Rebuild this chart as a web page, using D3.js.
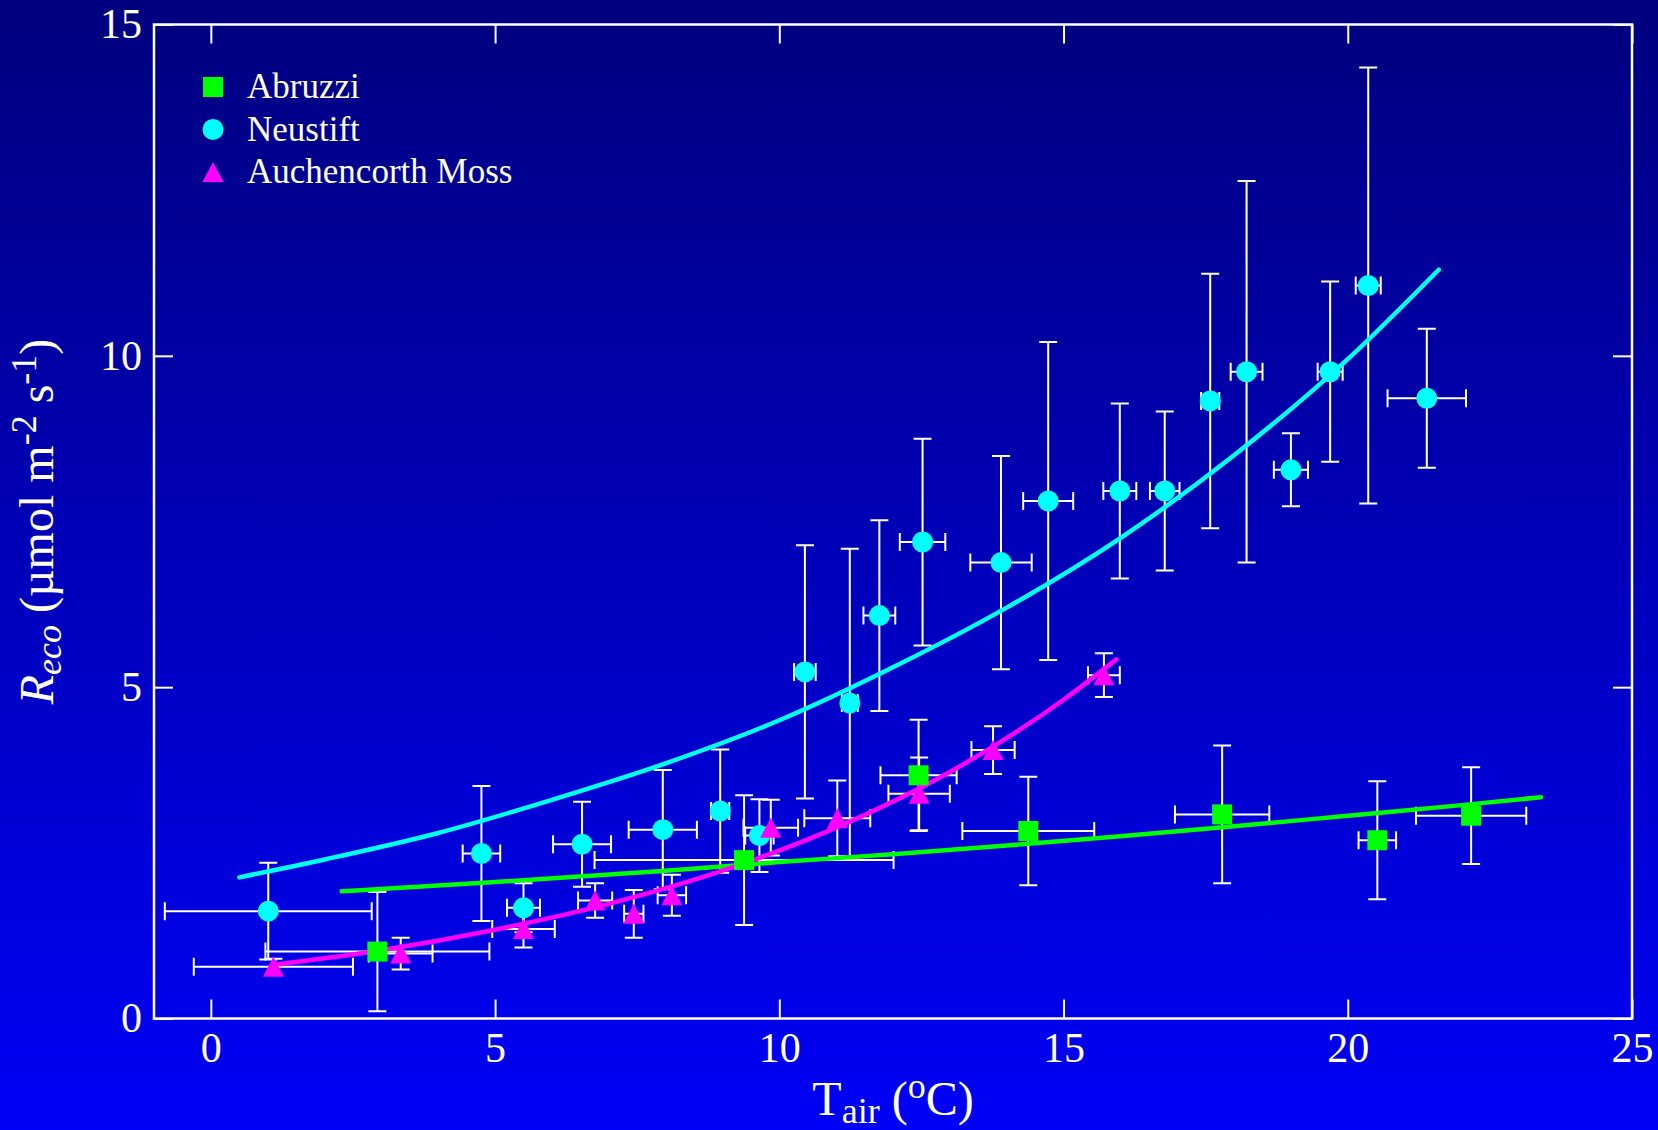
<!DOCTYPE html>
<html>
<head>
<meta charset="utf-8">
<script src="https://cdn.jsdelivr.net/npm/d3@7"></script>
<style>
  body { margin: 0; padding: 0; background: #000080; }
  svg text { font-family: "Liberation Serif", "Times New Roman", serif; fill: #fff; }
</style>
</head>
<body>
<div id="chart"></div>
<script>
// data
var abruzziX    = [2.93, 9.38, 12.45, 14.38, 17.79, 20.52, 22.17]
var abruzziY    = [1.01, 2.39, 3.67, 2.83, 3.08, 2.69, 3.06]
var abruzziXErr = [1.97, 2.63, 0.67, 1.16, 0.83, 0.33, 0.97]
var abruzziYErr = [0.90, 0.98, 0.84, 0.82, 1.04, 0.89, 0.73]

var neustiftX    = [1.01, 4.76, 5.50, 6.53, 7.95, 8.96, 9.65, 10.45, 11.24, 11.76, 12.52, 13.90, 14.73, 15.99, 16.78, 17.58, 18.22, 19.00, 19.69, 20.36, 21.39]
var neustiftY    = [1.62, 2.49, 1.67, 2.63, 2.85, 3.13, 2.76, 5.23, 4.76, 6.08, 7.19, 6.88, 7.81, 7.96, 7.96, 9.32, 9.76, 8.28, 9.76, 11.06, 9.36]
var neustiftXErr = [1.82, 0.33, 0.29, 0.51, 0.60, 0.16, 0.25, 0.19, 0.14, 0.28, 0.40, 0.54, 0.44, 0.29, 0.26, 0.16, 0.28, 0.30, 0.22, 0.22, 0.69]
var neustiftYErr = [0.73, 1.02, 0.37, 0.64, 0.90, 0.93, 0.55, 1.91, 2.33, 1.44, 1.56, 1.61, 2.40, 1.32, 1.20, 1.92, 2.88, 0.55, 1.36, 3.29, 1.05]

var auchX    = [1.10, 3.34, 5.50, 6.76, 7.44, 8.11, 9.85, 11.02, 12.46, 13.76, 15.71]
var auchY    = [0.78, 0.98, 1.35, 1.78, 1.58, 1.86, 2.88, 3.02, 3.39, 4.05, 5.18]
var auchXErr = [1.40, 0.56, 0.55, 0.30, 0.17, 0.25, 0.48, 0.58, 0.54, 0.38, 0.28]
var auchYErr = [0.12, 0.24, 0.28, 0.26, 0.36, 0.31, 0.42, 0.57, 0.55, 0.36, 0.33]

// fitted curves, points
var abruzziFitX = [2.3, 5, 8, 10, 12, 14, 16, 18, 20, 22, 23.4]
var abruzziFitY = [1.92, 2.06, 2.23, 2.36, 2.48, 2.61, 2.75, 2.90, 3.06, 3.22, 3.34]
var neustiftFitX = [0.5, 2, 4, 6, 8, 10, 12, 14, 16, 18, 20, 21.6]
var neustiftFitY = [2.13, 2.40, 2.80, 3.30, 3.85, 4.50, 5.30, 6.20, 7.25, 8.50, 9.95, 11.3]
var auchFitX = [1.1, 3, 5, 7, 9, 11, 13, 15, 15.93]
var auchFitY = [0.81, 1.03, 1.34, 1.73, 2.23, 2.88, 3.72, 4.81, 5.42]

var xTicks = [0, 5, 10, 15, 20, 25]
var yTicks = [0, 5, 10, 15]
var seriesNames = ["Abruzzi", "Neustift", "Auchencorth Moss"]
var seriesColors = ["#00ff00", "#00ffff", "#ff00ff"]
var seriesShapes = ["square", "circle", "triangle"]

// set the dimensions and margins of the graph
var margin = {top: 24.5, right: 26, bottom: 111.5, left: 154},
    width = 1658 - margin.left - margin.right,
    height = 1130 - margin.top - margin.bottom;

var root = d3.select("#chart")
    .append("svg")
    .attr("width", 1658)
    .attr("height", 1130)

// background gradient, dark navy at top to blue at bottom
var grad = root.append("defs").append("linearGradient")
    .attr("id", "bg")
    .attr("x1", 0).attr("y1", 0).attr("x2", 0).attr("y2", 1)
grad.append("stop").attr("offset", "0%").attr("stop-color", "#00007e")
grad.append("stop").attr("offset", "100%").attr("stop-color", "#0000f6")
root.append("rect")
    .attr("width", 1658).attr("height", 1130)
    .attr("fill", "url(#bg)")

var svg = root.append("g")
    .attr("transform", "translate(" + margin.left + "," + margin.top + ")");

var x = d3.scaleLinear().domain([-1, 25]).range([0, width]);
var y = d3.scaleLinear().domain([0, 15]).range([height, 0]);

// axes: ticks pointing inward on all four sides
function styleAxis(g) {
    g.select(".domain").remove()
    g.selectAll(".tick line").attr("stroke", "#fff").attr("stroke-width", 2)
    g.selectAll(".tick text").attr("fill", "#fff").style("font-size", "42px")
        .style("font-family", '"Liberation Serif", "Times New Roman", serif')
}
svg.append("g")
    .attr("transform", "translate(0," + height + ")")
    .call(d3.axisBottom(x).tickValues(xTicks).tickSizeInner(-19).tickSizeOuter(0).tickPadding(14))
    .call(styleAxis)
svg.append("g")
    .call(d3.axisTop(x).tickValues(xTicks).tickSizeInner(-19).tickSizeOuter(0).tickFormat(""))
    .call(styleAxis)
svg.append("g")
    .call(d3.axisLeft(y).tickValues(yTicks).tickSizeInner(-19).tickSizeOuter(0).tickPadding(12))
    .call(styleAxis)
svg.append("g")
    .attr("transform", "translate(" + width + ",0)")
    .call(d3.axisRight(y).tickValues(yTicks).tickSizeInner(-19).tickSizeOuter(0).tickFormat(""))
    .call(styleAxis)

svg.append("rect")
    .attr("width", width).attr("height", height)
    .attr("fill", "none").attr("stroke", "#fff").attr("stroke-width", 2.5)

// build point tables
function pts(xs, ys, xe, ye) {
    return xs.map(function(v, i) { return {x: v, y: ys[i], xe: xe[i], ye: ye[i]} })
}
var series = [
    {name: seriesNames[0], color: seriesColors[0], shape: seriesShapes[0],
     points: pts(abruzziX, abruzziY, abruzziXErr, abruzziYErr), fitX: abruzziFitX, fitY: abruzziFitY},
    {name: seriesNames[1], color: seriesColors[1], shape: seriesShapes[1],
     points: pts(neustiftX, neustiftY, neustiftXErr, neustiftYErr), fitX: neustiftFitX, fitY: neustiftFitY},
    {name: seriesNames[2], color: seriesColors[2], shape: seriesShapes[2],
     points: pts(auchX, auchY, auchXErr, auchYErr), fitX: auchFitX, fitY: auchFitY}
]

// error bars
var cap = 9
var eb = svg.append("g").attr("stroke", "#fff").attr("stroke-width", 2).attr("fill", "none")
series.forEach(function(s) {
    s.points.forEach(function(d) {
        var cx = x(d.x), cy = y(d.y)
        var x0 = x(d.x - d.xe), x1 = x(d.x + d.xe)
        var y0 = y(d.y - d.ye), y1 = y(d.y + d.ye)
        eb.append("path").attr("d",
            "M" + x0 + "," + cy + "H" + x1 +
            "M" + x0 + "," + (cy - cap) + "V" + (cy + cap) +
            "M" + x1 + "," + (cy - cap) + "V" + (cy + cap) +
            "M" + cx + "," + y0 + "V" + y1 +
            "M" + (cx - cap) + "," + y0 + "H" + (cx + cap) +
            "M" + (cx - cap) + "," + y1 + "H" + (cx + cap))
    })
})

// fitted lines
series.forEach(function(s) {
    svg.append("path")
        .datum(s.fitX.map(function(v, i) { return [v, s.fitY[i]] }))
        .attr("fill", "none")
        .attr("stroke", s.color)
        .attr("stroke-width", 4.5)
        .attr("stroke-linecap", "round")
        .attr("d", d3.line()
            .curve(d3.curveMonotoneX)
            .x(function(d) { return x(d[0]) })
            .y(function(d) { return y(d[1]) }))
})

// markers
function marker(g, shape, color) {
    if (shape == "square") {
        g.append("rect").attr("x", -10).attr("y", -10).attr("width", 20).attr("height", 20).attr("fill", color)
    } else if (shape == "circle") {
        g.append("circle").attr("r", 10.5).attr("fill", color)
    } else {
        g.append("path").attr("d", "M-10.5,10L10.5,10L0,-10Z").attr("fill", color)
    }
}
series.forEach(function(s) {
    s.points.forEach(function(d) {
        var g = svg.append("g").attr("transform", "translate(" + x(d.x) + "," + y(d.y) + ")")
        marker(g, s.shape, s.color)
    })
})

// legend
series.forEach(function(s, i) {
    var ly = 87 - margin.top + i * 42.5
    var g = svg.append("g").attr("transform", "translate(" + (213 - margin.left) + "," + ly + ")")
    marker(g, s.shape, s.color)
    svg.append("text")
        .attr("x", 247 - margin.left)
        .attr("y", ly + 11)
        .style("font-size", "35px")
        .text(s.name)
})

// axis titles
var xt = root.append("text")
    .attr("x", margin.left + width / 2)
    .attr("y", 1115)
    .attr("text-anchor", "middle")
    .style("font-size", "48px")
xt.append("tspan").text("T")
xt.append("tspan").attr("dy", 8).style("font-size", "36px").text("air")
xt.append("tspan").attr("dy", -8).text(" (")
xt.append("tspan").attr("dy", -17).style("font-size", "36px").text("o")
xt.append("tspan").attr("dy", 17).text("C)")

var yt = root.append("text")
    .attr("transform", "translate(53," + (margin.top + height / 2) + ") rotate(-90)")
    .attr("text-anchor", "middle")
    .style("font-size", "48px")
yt.append("tspan").style("font-style", "italic").text("R")
yt.append("tspan").attr("dy", 8).style("font-style", "italic").style("font-size", "36px").text("eco")
yt.append("tspan").attr("dy", -8).text(" (\u00b5mol m")
yt.append("tspan").attr("dy", -17).style("font-size", "36px").text("-2")
yt.append("tspan").attr("dy", 17).text(" s")
yt.append("tspan").attr("dy", -17).style("font-size", "36px").text("-1")
yt.append("tspan").attr("dy", 17).text(")")
</script>
</body>
</html>
